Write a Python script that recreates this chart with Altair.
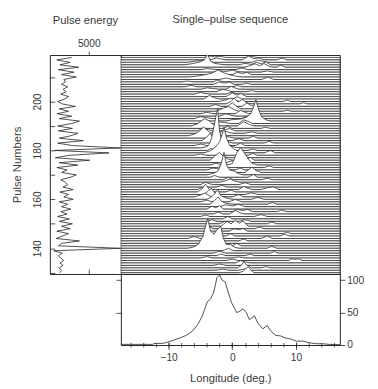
import altair as alt
import pandas as pd

# ---------------- data ----------------
lon_domain = [-17.5, 16.9]
pulse_domain = [129.5, 219.0]
energy_domain = [0, 9125]
profile_domain = [0, 109.5]

pulses = list(range(130, 219))
energy = [1300, 1500, 1200, 1700, 1300, 1800, 1400, 1100, 1600, 500,
          9100, 1100, 1500, 3800, 800, 1600, 2400, 900, 2600, 1500,
          2900, 1200, 2500, 1000, 2200, 1400, 2700, 1500, 2300, 1200,
          3000, 1800, 2400, 1300, 3000, 1700, 2300, 2000, 1400, 2600,
          3400, 1500, 2200, 900, 3600, 1200, 5100, 700, 2500, 7600,
          600, 9100, 2900, 1000, 4300, 1200, 2700, 3600, 1100, 2900,
          1000, 2800, 3800, 1200, 2800, 900, 2400, 1200, 3300, 1600,
          1000, 1900, 2400, 1400, 2100, 1700, 2300, 1500, 2000, 1800,
          3400, 1500, 3100, 1100, 3700, 1300, 2600, 900, 2800]

# single-pulse profiles: pulse -> knots (longitude, height in pulse units)
features = {
    218: [(-4.5, 0), (-3.5, 0.6), (-2.8, 0.2), (-2, 0.5), (-1, 0), (2, 0), (3, 0.4), (4, 0)],
    217: [(-3.5, 0), (-2.5, 0.8), (-1.8, 0.4), (-1.0, 0), (1.5, 0), (2.6, 1.6), (3.3, 0.5), (4.2, 0.8), (5, 0), (7, 0), (7.8, 0.8), (8.6, 0)],
    216: [(-7, 0), (-5.8, 0.5), (-4.8, 0.7), (-4, 0.3), (-3, 0), (3, 0), (4, 0.9), (5, 0.4), (5.5, 0)],
    215: [(-7.5, 0), (-6, 0.6), (-5, 1.3), (-4.4, 2.0), (-3.9, 4.4), (-3.4, 1.5), (-2.8, 0.6), (-2, 0.3), (-1, 0), (1, 0), (2, 0.6), (3, 0.2), (3.8, 1.0), (4.6, 0.4), (5.3, 1.2), (6, 0)],
    214: [(2, 0), (3.6, 1.4), (4.3, 0.6), (5.0, 1.5), (5.9, 0.3), (6.5, 0), (7, 0), (7.6, 0.9), (8.3, 0)],
    213: [(-5, 0), (-4, 0.5), (-3, 0.2), (-2, 0), (0.5, 0), (1.5, 0.7), (2.5, 0)],
    212: [(-3, 0), (-2, 0.5), (-1, 0.3), (0, 0.8), (1, 0.2), (2, 0), (4.5, 0), (5.5, 0.5), (6.5, 0)],
    211: [(0, 0), (0.8, 1.0), (1.6, 0.4), (2.3, 1.0), (3, 0)],
    210: [(-7, 0), (-5.5, 0.4), (-4.2, 1.0), (-3.2, 1.6), (-2.2, 2.9), (-1.4, 1.8), (-0.5, 1.0), (0.5, 0.4), (1.5, 0)],
    209: [(-2, 0), (-1, 0.6), (0, 0), (4.6, 0), (5.6, 1.0), (6.5, 0)],
    208: [(-8, 0), (-7, 0.4), (-6, 0), (-3, 0), (-2.4, 0.8), (-1.8, 0.3), (-1, 0)],
    207: [(-3, 0), (-2, 1.0), (-1.3, 0.5), (-0.5, 1.0), (0.3, 0), (1.5, 0), (2.2, 0.5), (3, 0)],
    206: [(-7.5, 0), (-6.5, 0.6), (-5.5, 0), (0, 0), (0.8, 0.5), (1.5, 0)],
    205: [(-5, 0), (-4, 0.6), (-3, 0.3), (-2, 0), (-1, 0), (-0.2, 1.2), (0.6, 0.4), (1.2, 0)],
    204: [(-2.5, 0), (-1.5, 1.0), (-0.8, 0.6), (0, 0), (2, 0), (3, 0.4), (4, 0)],
    203: [(-6, 0), (-5, 0.7), (-4.3, 0.3), (-3.5, 0), (-1, 0), (-0.2, 0.8), (0.6, 0.3), (1.2, 0)],
    202: [(-1, 0), (0, 1.5), (0.7, 0.6), (1.4, 1.3), (2.2, 0)],
    201: [(-4.5, 0), (-3.6, 1.5), (-2.8, 0.5), (-2, 0), (0, 0), (0.8, 1.0), (1.5, 0)],
    200: [(-2, 0), (-1, 0.7), (-0.2, 1.4), (0.5, 0.5), (1.2, 0), (8, 0), (8.6, 0.6), (9.2, 0)],
    199: [(-1, 0), (-0.2, 1.0), (0.3, 2.4), (0.9, 0.8), (1.6, 1.8), (2.3, 0.5), (3, 0), (10.6, 0), (11.2, 0.5), (11.8, 0)],
    198: [(-3.5, 0), (-2.6, 0.8), (-1.8, 0), (1.5, 0), (2.3, 1.4), (3, 0.3), (3.6, 0)],
    197: [(-1.5, 0), (-0.6, 1.2), (0, 2.5), (0.6, 1.2), (1.3, 0)],
    196: [(-2.5, 0), (-1.5, 1.2), (-0.6, 2.0), (0.3, 0.7), (1, 0), (8, 0), (8.6, 0.5), (9.2, 0)],
    195: [(-5, 0), (-4, 0.6), (-3, 0), (0.5, 0), (1.3, 1.4), (2, 0.6), (2.6, 0)],
    194: [(-2, 0), (-1, 1.0), (-0.2, 0.4), (0.5, 0)],
    193: [(-6, 0), (-5, 0.8), (-4, 0.4), (-3, 0), (1.5, 0), (2.3, 1.0), (3, 0)],
    192: [(-1, 0), (0, 0.6), (1.2, 0.8), (2.2, 1.5), (2.9, 3.0), (3.4, 6.0), (3.7, 8.8), (4.1, 5.0), (4.6, 1.8), (5.3, 0.5), (6, 0)],
    191: [(-3, 0), (-2, 0.7), (-1, 0.3), (0, 0), (1, 0), (1.8, 1.5), (2.6, 0.8), (3.2, 0)],
    190: [(-6.5, 0), (-5.5, 0.8), (-4.8, 2.2), (-4.3, 3.0), (-3.6, 2.0), (-3.0, 0.6), (-2.2, 0), (0.8, 0), (1.8, 1.8), (2.7, 0.6), (3.5, 0)],
    189: [(-1.5, 0), (-0.7, 0.8), (0, 0), (4.5, 0), (5.2, 0.5), (6, 0)],
    188: [(-5.5, 0), (-4.6, 1.2), (-3.8, 0.5), (-3, 0), (-1.5, 0), (-0.5, 1.0), (0.5, 0)],
    187: [(-3.5, 0), (-2.5, 1.2), (-1.8, 0.5), (-1, 0.8), (0, 0), (2, 0), (3, 0.6), (4, 0)],
    186: [(-7, 0), (-6, 0.6), (-5.2, 1.8), (-4.5, 3.6), (-3.8, 2.0), (-3.2, 0.6), (-2.5, 0)],
    185: [(-2.5, 0), (-1.5, 1.0), (-0.5, 0.5), (0.3, 0), (2.5, 0), (3.3, 0.8), (4, 0)],
    184: [(-4.8, 0), (-4, 1.5), (-3.5, 3.0), (-3, 1.2), (-2.3, 0), (0, 0), (1, 0.8), (2, 0)],
    183: [(-1.5, 0), (-0.8, 0.8), (0, 0), (5, 0), (5.8, 0.7), (6.5, 0)],
    182: [(-6, 0), (-5, 0.6), (-4, 0), (0.5, 0), (1.3, 1.0), (2, 0)],
    181: [(-5, 0), (-4, 0.5), (-3.6, 1.5), (-3.2, 4.5), (-2.9, 8.5), (-2.6, 12.5), (-2.3, 16.0), (-2.0, 7.0), (-1.7, 3.5), (-1.2, 2.0), (-0.5, 1.0), (0.5, 0.3), (1.5, 0)],
    180: [(-4, 0), (-3.3, 0.8), (-2.6, 0), (2.5, 0), (3.2, 0.6), (4, 0)],
    179: [(-4.5, 0), (-3.5, 0.8), (-2.7, 2.2), (-2.0, 4.5), (-1.6, 7.5), (-1.3, 10.5), (-0.9, 6.0), (-0.4, 3.0), (0.3, 1.5), (1.0, 0.5), (1.8, 0), (5, 0), (6, 1.0), (6.8, 0)],
    178: [(-6, 0), (-5, 0.5), (-4, 0), (2.5, 0), (3.2, 0.8), (4, 0)],
    177: [(-3, 0), (-2, 0.8), (-1.2, 0.3), (0, 0)],
    176: [(-3.5, 0), (-2.6, 2.0), (-2.0, 3.2), (-1.4, 1.5), (-0.7, 0.5), (0, 0), (2, 0), (2.8, 1.2), (3.5, 0)],
    175: [(-1, 0), (0, 0.8), (1, 0)],
    174: [(-3.5, 0), (-2.5, 0.8), (-1.7, 0), (-1, 0), (0, 0.6), (0.4, 3.0), (0.7, 5.0), (1.3, 7.2), (1.9, 5.0), (2.5, 2.5), (3.1, 0.8), (4, 0)],
    173: [(-2.5, 0), (-1.5, 0.6), (-0.8, 0), (5, 0), (5.8, 0.7), (6.5, 0)],
    172: [(-4, 0), (-3, 0.8), (-2, 0.4), (-1, 0), (0.5, 0), (1.2, 0.8), (2, 0)],
    171: [(-1, 0), (-0.2, 1.0), (0.5, 0), (2, 0), (2.6, 1.2), (3.1, 2.2), (3.7, 0.8), (4.5, 0)],
    170: [(-4, 0), (-3, 0.6), (-2.3, 1.5), (-1.8, 4.0), (-1.3, 9.2), (-0.9, 4.0), (-0.4, 2.0), (0.3, 1.6), (1, 0.5), (1.8, 0)],
    169: [(-3.5, 0), (-2.8, 0.8), (-2, 0), (2.5, 0), (3.3, 1.2), (4, 0)],
    168: [(-1.5, 0), (-0.6, 1.0), (0.2, 0), (4.5, 0), (5.5, 0.6), (6.5, 0)],
    167: [(-2, 0), (-1, 0.7), (-0.3, 1.3), (0.5, 0.4), (1.2, 0)],
    166: [(-5, 0), (-4.2, 1.0), (-3.5, 0.3), (-2.8, 0), (1, 0), (2, 0.8), (3, 0)],
    165: [(-2.5, 0), (-1.6, 0.7), (-0.8, 0)],
    164: [(-5.5, 0), (-4.8, 0.8), (-4, 0), (1, 0), (1.8, 1.3), (2.6, 0.4), (3.2, 0), (4.5, 0), (5.5, 0.8), (6.5, 1.1), (7.3, 0)],
    163: [(-5.5, 0), (-4.8, 1.2), (-4.2, 3.2), (-3.6, 1.0), (-3, 0), (-1, 0), (-0.2, 0.8), (0.5, 0)],
    162: [(-4.5, 0), (-3.8, 1.3), (-3.3, 2.6), (-2.8, 0.8), (-2.2, 0), (2, 0), (3, 0.7), (4, 0)],
    161: [(-6, 0), (-5, 0.8), (-4.3, 1.6), (-3.7, 0.6), (-3, 0), (0, 0), (1, 1.0), (1.8, 0)],
    160: [(-4, 0), (-3.3, 1.0), (-2.8, 2.2), (-2.3, 4.0), (-1.8, 1.5), (-1.0, 0.6), (0, 0), (3, 0), (4, 0.8), (5, 0)],
    159: [(-5, 0), (-4, 0.7), (-3.2, 0), (-0.5, 0), (0.5, 1.0), (1.5, 0)],
    158: [(-3.5, 0), (-2.8, 1.5), (-2.2, 3.0), (-1.7, 1.2), (-1, 0.4), (0, 0), (5.5, 0), (6.3, 0.7), (7, 0)],
    157: [(-2, 0), (-1, 0.8), (0, 0.3), (1, 1.0), (2, 0)],
    156: [(-4, 0), (-3.2, 1.2), (-2.6, 0.6), (-2, 1.4), (-1.4, 0)],
    155: [(0, 0), (0.8, 0.9), (1.6, 0.4), (2.4, 0.9), (3.2, 0), (7, 0), (7.8, 0.6), (8.6, 0)],
    154: [(-3, 0), (-2.2, 0.8), (-1.5, 0), (-0.5, 0), (0.5, 1.5), (1.2, 0.5), (2, 0)],
    153: [(-5, 0), (-4.2, 0.6), (-3.5, 0), (3.5, 0), (4.5, 0.8), (5.5, 0)],
    152: [(-1.5, 0), (-0.7, 1.0), (0, 0)],
    151: [(-4, 0), (-3.2, 0.7), (-2.4, 0), (1, 0), (2, 0.7), (3, 0)],
    150: [(-2, 0), (-1.2, 1.0), (-0.4, 0), (5.5, 0), (6.2, 0.8), (7, 0)],
    149: [(-1.8, 0), (-0.8, 2.0), (-0.2, 1.0), (0.5, 2.5), (1.1, 1.2), (1.7, 2.2), (2.5, 0)],
    148: [(-4.5, 0), (-3.8, 1.2), (-3, 0), (3.5, 0), (4.3, 0.7), (5, 0)],
    147: [(-0.5, 0), (0.3, 1.0), (1.0, 0.6), (1.7, 1.1), (2.4, 0)],
    146: [(-3, 0), (-2.2, 0.9), (-1.4, 0), (8, 0), (8.6, 0.6), (9.2, 0)],
    145: [(-1, 0), (-0.3, 1.0), (0.4, 0), (7.5, 0), (8.2, 0.8), (9, 0)],
    144: [(-7, 0), (-6, 0.8), (-5, 0), (4.5, 0), (5.5, 1.0), (6.3, 0)],
    143: [(-5, 0), (-4.2, 1.5), (-3.5, 0.6), (-2.8, 0), (1, 0), (1.8, 0.8), (2.5, 0)],
    142: [(-2.5, 0), (-1.8, 1.2), (-1.2, 0)],
    141: [(-4.5, 0), (-3.6, 1.4), (-2.8, 0.5), (-2, 0), (0, 0), (0.7, 1.0), (1.4, 0)],
    140: [(-7, 0), (-6, 0.6), (-5.3, 1.8), (-4.6, 5.0), (-4.2, 9.0), (-3.85, 12.0), (-3.4, 7.0), (-2.9, 5.8), (-2.4, 7.5), (-1.8, 9.0), (-1.4, 4.0), (-0.9, 1.5), (-0.3, 1.6), (0.3, 0.5), (1, 0), (5.5, 0), (6.2, 0.8), (7, 0)],
    139: [(-1.5, 0), (-0.6, 1.0), (0.2, 0)],
    138: [(-3, 0), (-2, 0.8), (-1, 0), (6, 0), (6.6, 0.7), (7.2, 0)],
    137: [(-2.5, 0), (-1.8, 0.7), (-1, 0), (2, 0), (2.8, 0.6), (3.5, 0)],
    136: [(-5, 0), (-4, 0.6), (-3, 0), (0, 0), (1, 0.5), (2, 0)],
    135: [(-1, 0), (0, 0.6), (1, 0), (8.8, 0), (9.3, 0.7), (9.8, 0.5), (10.4, 0.7), (11, 0)],
    134: [(0.5, 0), (1.3, 1.0), (2, 0.5), (2.8, 0)],
    133: [(-3, 0), (-2, 0.6), (-1, 0)],
    132: [(0.8, 0), (1.4, 1.0), (1.8, 2.4), (2.3, 1.2), (3, 0), (4.5, 0), (5.3, 0.5), (6, 0)],
    131: [(-2.5, 0), (-1.5, 0.5), (-0.5, 0), (1, 0), (2, 0.6), (3, 0)],
    130: [(1.0, 0), (1.7, 0.6), (2.1, 1.6), (2.5, 2.5), (2.9, 1.2), (3.4, 0)],
}

# integrated (average) profile
profile_lon = [-17.5, -16, -14, -12.5, -12.3, -11, -10.3, -9.2, -8.2, -7.2, -6.2, -5.4,
               -4.7, -3.9, -3.4, -2.9, -2.4, -2.0, -1.6, -1.1, -0.6, -0.1, 0.7, 1.2,
               1.7, 2.2, 2.7, 3.5, 4.0, 4.8, 5.5, 6.0, 6.8, 7.6, 8.3, 9.3, 10.1, 11.1,
               12.1, 13.2, 14.2, 15.2, 16.9]
profile_val = [1, 1, 1, 1, 2.5, 2.5, 4, 7.5, 11, 15, 22, 32,
               45, 67, 71, 82, 104, 108, 100, 97, 80, 65, 50, 52,
               56, 50, 39, 45, 34, 25, 30, 22, 15, 14, 11, 9, 6, 6,
               3.5, 2, 2, 1, 0.5]

x_ticks_major = [-10, 0, 10]
x_ticks_minor = list(range(-16, 17, 2))
pulse_ticks = list(range(130, 220, 10))
energy_ticks = [5000]
profile_ticks_right = [0, 50, 100]
profile_ticks_left = [50, 100]

# ---------------- tables ----------------
rows = []
for p in sorted(features.keys(), reverse=True):  # top pulse first -> drawn underneath
    knots = [(lon_domain[0], 0.0)] + features[p] + [(lon_domain[1], 0.0)]
    for lon, amp in knots:
        rows.append({"pulse": p, "lon": lon, "top": p + amp, "base": p - 1})
stack_df = pd.DataFrame(rows)
energy_df = pd.DataFrame({"pulse": pulses, "energy": energy})
profile_df = pd.DataFrame({"lon": profile_lon, "val": profile_val})

FONT = "Liberation Sans"
INK = "#222222"
TXT = "#3a3a3a"

def ax(**kw):
    base = dict(labelFont=FONT, labelFontSize=10.5, labelColor=TXT, tickColor=INK,
                tickWidth=0.8, domain=False, grid=False, titleFont=FONT,
                titleFontSize=11.5, titleFontWeight="normal", titleColor=TXT)
    base.update(kw)
    return alt.Axis(**base)

# ---------------- energy panel ----------------
e_x = alt.Scale(domain=energy_domain, nice=False, zero=False)
p_y = alt.Scale(domain=pulse_domain, nice=False, zero=False)

pulse_axis = ax(orient="left", values=pulse_ticks, offset=-5, tickSize=5,
                labelExpr="datum.value % 20 == 0 ? datum.label : ''",
                labelAngle=-90, labelAlign="center", labelBaseline="bottom",
                labelPadding=8, title="Pulse Numbers", titlePadding=10)

e_line = alt.Chart(energy_df).mark_line(color=INK, strokeWidth=0.8, clip=True).encode(
    x=alt.X("energy:Q", scale=e_x,
            axis=ax(orient="top", values=energy_ticks, title=None, tickSize=4, labelPadding=3,
                    format="d")),
    y=alt.Y("pulse:Q", scale=p_y, axis=pulse_axis),
    order="pulse:Q",
)
e_ghost = alt.Chart(energy_df).mark_line(opacity=0).encode(
    x=alt.X("energy:Q", scale=e_x,
            axis=ax(orient="bottom", values=energy_ticks, labels=False, title=None,
                    tickSize=5, offset=-5)),
    y=alt.Y("pulse:Q", scale=p_y, axis=pulse_axis),
)
energy_panel = alt.layer(e_line, e_ghost).resolve_axis(x="independent").properties(
    width=73, height=225,
    title=alt.TitleParams("Pulse energy", font=FONT, fontSize=11.5, fontWeight="normal",
                          color=TXT, offset=12),
)

# ---------------- stack panel ----------------
l_x = alt.Scale(domain=lon_domain, nice=False, zero=False)
stack = alt.Chart(stack_df).mark_area(fill="white", stroke=INK, strokeWidth=0.75,
                                     clip=True, interpolate="linear").encode(
    x=alt.X("lon:Q", scale=l_x, axis=None),
    y=alt.Y("top:Q", scale=p_y, axis=None),
    y2="base:Q",
    detail="pulse:N",
).properties(
    width=225, height=225,
    title=alt.TitleParams("Single\u2013pulse sequence", font=FONT, fontSize=11.5,
                          fontWeight="normal", color=TXT, offset=30),
)

# ---------------- average profile ----------------
v_y = alt.Scale(domain=profile_domain, nice=False, zero=False)
prof_line = alt.Chart(profile_df).mark_line(color=INK, strokeWidth=0.8).encode(
    x=alt.X("lon:Q", scale=l_x,
            axis=ax(orient="bottom", values=x_ticks_major, offset=-3, tickSize=7.5,
                    labelPadding=3, title="Longitude (deg.)", titlePadding=10)),
    y=alt.Y("val:Q", scale=v_y,
            axis=ax(orient="right", values=profile_ticks_right, tickSize=5, labelPadding=2,
                    title=None)),
)
prof_ghost = alt.Chart(profile_df).mark_line(opacity=0).encode(
    x=alt.X("lon:Q", scale=l_x,
            axis=ax(orient="bottom", values=x_ticks_minor, offset=-2.5, tickSize=4.5,
                    labels=False, title=None)),
    y=alt.Y("val:Q", scale=v_y,
            axis=ax(orient="left", values=profile_ticks_left, tickSize=5, labels=False,
                    title=None)),
)
profile = alt.layer(prof_line, prof_ghost).resolve_axis(x="independent", y="independent").properties(
    width=225, height=73)

right = alt.vconcat(stack, profile, spacing=0, bounds="flush")
chart = alt.hconcat(energy_panel, right, spacing=0, bounds="flush").configure_view(
    stroke=INK, strokeWidth=1
).properties(padding={"left": 3, "top": 1, "right": 5, "bottom": 5})

chart.save("out.html", embed_options={"renderer": "svg", "actions": False})
